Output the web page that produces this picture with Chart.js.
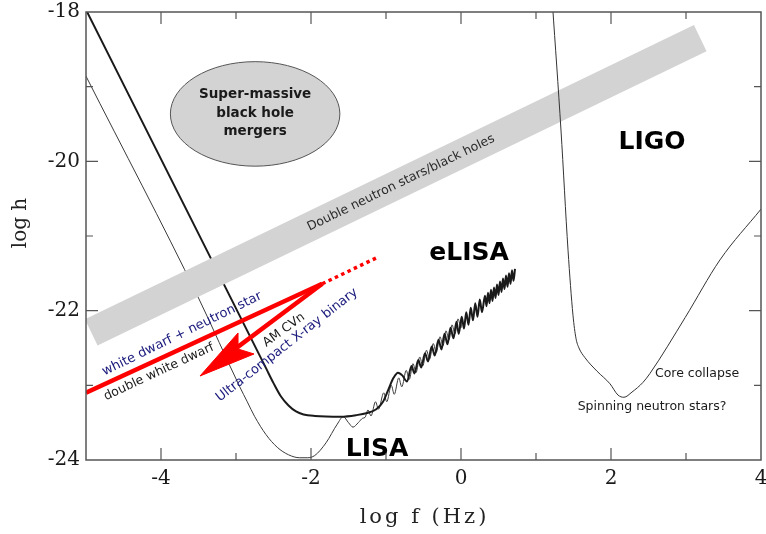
<!DOCTYPE html>
<html>
<head>
<meta charset="utf-8">
<script src="https://cdn.jsdelivr.net/npm/chart.js@4.4.1/dist/chart.umd.min.js"></script>
<style>
  html, body { margin: 0; padding: 0; background: #fff; }
</style>
</head>
<body>
<canvas id="chart" width="766" height="534"></canvas>
<script>
// values: log f (Hz) and log h

// LISA (thin curve)
const lisaF = [-5, -3.5, -2.95, -2.85, -2.75, -2.6, -2.45, -2.3, -2.15, -2.05, -1.95, -1.8, -1.65, -1.57, -1.5, -1.44, -1.37, -1.31, -1.28,
  -1.24, -1.20, -1.14, -1.10, -1.03, -0.99, -0.93, -0.89, -0.83, -0.79, -0.73, -0.69, -0.64, -0.60, -0.55, -0.51,
  -0.46, -0.42, -0.37, -0.33, -0.28, -0.24, -0.20, -0.16, -0.12, -0.08, -0.04, 0.00, 0.01];
const lisaH = [-18.86, -21.83, -23.02, -23.22, -23.42, -23.66, -23.83, -23.93, -23.97, -23.97, -23.94, -23.77, -23.52, -23.42, -23.50, -23.56, -23.50, -23.44, -23.43,
  -23.33, -23.41, -23.22, -23.32, -23.10, -23.22, -23.00, -23.12, -22.90, -23.02, -22.80, -22.92, -22.71, -22.83, -22.62, -22.74,
  -22.53, -22.65, -22.44, -22.56, -22.35, -22.47, -22.27, -22.39, -22.19, -22.31, -22.11, -22.23, -22.12];

// eLISA (thick curve)
const elisaF = [-5, -2.6, -2.5, -2.4, -2.3, -2.2, -2.1, -1.95, -1.6, -1.4, -1.25, -1.13, -1.04, -0.97, -0.90, -0.84, -0.78, -0.72,
  -0.66, -0.62, -0.57, -0.53, -0.48, -0.44, -0.39, -0.35, -0.30, -0.26, -0.22, -0.18, -0.14, -0.10, -0.06, -0.03, 0.01, 0.04, 0.07, 0.10,
  0.13, 0.16, 0.19, 0.22, 0.25, 0.28,
  0.32, 0.34, 0.36, 0.38, 0.40, 0.42, 0.44, 0.46, 0.48, 0.50, 0.52, 0.54, 0.56, 0.58, 0.60, 0.62, 0.64, 0.66, 0.68, 0.70, 0.72];
const elisaH = [-17.97, -22.77, -22.97, -23.15, -23.27, -23.35, -23.39, -23.41, -23.42, -23.40, -23.37, -23.32, -23.22, -23.06, -22.90, -22.83, -22.87, -22.95,
  -22.74, -22.84, -22.66, -22.76, -22.57, -22.68, -22.48, -22.60, -22.39, -22.52, -22.31, -22.45, -22.23, -22.37, -22.15, -22.31, -22.08, -22.24, -22.02, -22.19,
  -21.96, -22.13, -21.90, -22.08, -21.85, -22.02,
  -21.80, -21.94, -21.76, -21.90, -21.72, -21.87, -21.69, -21.83, -21.65, -21.79, -21.61, -21.75, -21.57, -21.71, -21.53, -21.68, -21.50, -21.64, -21.46, -21.60, -21.44];

// LIGO
const ligoF = [1.22, 1.333, 1.427, 1.493, 1.533, 1.573, 1.653, 1.813, 1.987, 2.093, 2.173, 2.28, 2.427, 2.52, 2.99, 3.453, 4.0];
const ligoH = [-17.9, -19.58, -21.19, -22.06, -22.37, -22.50, -22.63, -22.81, -22.98, -23.13, -23.16, -23.09, -22.96, -22.84, -22.09, -21.32, -20.64];

// double neutron stars / black holes band (centre line)
const bandF = [-4.93, 3.19];
const bandH = [-22.29, -18.35];

// super-massive black hole mergers region
const smbhF = [-3.875, -1.615];
const smbhH = [-18.665, -20.065];

// white dwarf tracks
const wdnsF = [-5.0, -1.85];
const wdnsH = [-23.10, -21.64];
const ucxbF = [-1.85, -1.10];
const ucxbH = [-21.64, -21.28];
const amcvnF = [-1.85, -3.30];
const amcvnH = [-21.64, -22.73];
const headF = [-2.973, -3.48, -2.76, -2.973, -2.973];
const headH = [-22.299, -22.875, -22.58, -22.513, -22.299];

const notes = [
  { text: 'Super-massive\nblack hole\nmergers', f: -2.745, h: -19.355, angle: 0, font: 'bold 13.5px "DejaVu Sans"', color: '#1a1a1a', lh: 18.5 },
  { text: 'LIGO', f: 2.547, h: -19.754, angle: 0, font: 'bold 25px "DejaVu Sans"', color: '#000' },
  { text: 'eLISA', f: 0.107, h: -21.241, angle: 0, font: 'bold 25px "DejaVu Sans"', color: '#000' },
  { text: 'LISA', f: -1.12, h: -23.866, angle: 0, font: 'bold 25px "DejaVu Sans"', color: '#000' },
  { text: 'Core collapse', f: 3.147, h: -22.848, angle: 0, font: '12.5px "DejaVu Sans"', color: '#1a1a1a' },
  { text: 'Spinning neutron stars?', f: 2.547, h: -23.29, angle: 0, font: '12.5px "DejaVu Sans"', color: '#1a1a1a' },
  { text: 'Double neutron stars/black holes', f: -0.8, h: -20.29, angle: -25.8, font: '12.5px "DejaVu Sans"', color: '#2a2a2a' },
  { text: 'white dwarf + neutron star', f: -3.72, h: -22.312, angle: -26, font: '13px "DejaVu Sans"', color: '#1b1b7d' },
  { text: 'double white dwarf', f: -4.027, h: -22.821, angle: -25, font: '12.5px "DejaVu Sans"', color: '#1a1a1a' },
  { text: 'AM CVn', f: -2.36, h: -22.259, angle: -36, font: '12.5px "DejaVu Sans"', color: '#1a1a1a' },
  { text: 'Ultra-compact X-ray binary', f: -2.32, h: -22.46, angle: -38, font: '13px "DejaVu Sans"', color: '#1b1b7d' }
];

const pts = (fs, hs) => fs.map((f, i) => ({ x: f, y: hs[i] }));

const overlay = {
  id: 'overlay',
  beforeDatasetsDraw(chart) {
    const { ctx, scales: { x, y } } = chart;
    const x0 = x.getPixelForValue(smbhF[0]), x1 = x.getPixelForValue(smbhF[1]);
    const y0 = y.getPixelForValue(smbhH[0]), y1 = y.getPixelForValue(smbhH[1]);
    ctx.save();
    ctx.beginPath();
    ctx.ellipse((x0 + x1) / 2, (y0 + y1) / 2, Math.abs(x1 - x0) / 2, Math.abs(y1 - y0) / 2, 0, 0, Math.PI * 2);
    ctx.fillStyle = '#d3d3d3';
    ctx.fill();
    ctx.strokeStyle = '#555';
    ctx.lineWidth = 1;
    ctx.stroke();
    ctx.restore();
  },
  afterDatasetsDraw(chart) {
    const { ctx, scales: { x, y } } = chart;
    notes.forEach(n => {
      ctx.save();
      ctx.translate(x.getPixelForValue(n.f), y.getPixelForValue(n.h));
      ctx.rotate(n.angle * Math.PI / 180);
      ctx.font = n.font;
      ctx.fillStyle = n.color;
      ctx.textAlign = 'center';
      ctx.textBaseline = 'middle';
      const lines = n.text.split('\n');
      lines.forEach((line, i) => ctx.fillText(line, 0, (i - (lines.length - 1) / 2) * (n.lh || 0)));
      ctx.restore();
    });
  },
  afterDraw(chart) {
    const { ctx, chartArea: a, scales: { x, y } } = chart;
    ctx.save();
    // frame
    ctx.strokeStyle = '#555';
    ctx.lineWidth = 1.5;
    ctx.strokeRect(a.left, a.top, a.right - a.left, a.bottom - a.top);
    // inward ticks
    ctx.lineWidth = 1.2;
    ctx.beginPath();
    for (let v = -4; v <= 3; v++) {
      const px = x.getPixelForValue(v);
      const len = v % 2 === 0 ? 12 : 7;
      ctx.moveTo(px, a.bottom); ctx.lineTo(px, a.bottom - len);
      ctx.moveTo(px, a.top); ctx.lineTo(px, a.top + len);
    }
    for (let v = -23; v <= -19; v++) {
      const py = y.getPixelForValue(v);
      const len = v % 2 === 0 ? 12 : 7;
      ctx.moveTo(a.left, py); ctx.lineTo(a.left + len, py);
      ctx.moveTo(a.right, py); ctx.lineTo(a.right - len, py);
    }
    ctx.stroke();
    // axis titles
    ctx.fillStyle = '#222';
    ctx.textAlign = 'center';
    ctx.textBaseline = 'middle';
    ctx.font = '21px "DejaVu Serif"';
    if ('letterSpacing' in ctx) ctx.letterSpacing = '3px';
    ctx.fillText('log f (Hz)', (a.left + a.right) / 2 + 1, 518);
    if ('letterSpacing' in ctx) ctx.letterSpacing = '0px';
    ctx.font = '20px "DejaVu Serif"';
    ctx.translate(21, 223);
    ctx.rotate(-Math.PI / 2);
    ctx.fillText('log h', 0, 0);
    ctx.restore();
  }
};

const line = (label, fs, hs, extra) => Object.assign({
  label, data: pts(fs, hs), pointRadius: 0, tension: 0, fill: false,
  borderJoinStyle: 'round'
}, extra);

new Chart(document.getElementById('chart'), {
  type: 'line',
  data: {
    datasets: [
      line('arrow head', headF, headH, { borderColor: '#ff0000', backgroundColor: '#ff0000', borderWidth: 1, fill: 'shape', borderJoinStyle: 'miter', order: 1 }),
      line('AM CVn', amcvnF, amcvnH, { borderColor: '#ff0000', borderWidth: 4.5, order: 1 }),
      line('white dwarf + neutron star', wdnsF, wdnsH, { borderColor: '#ff0000', borderWidth: 4.5, order: 1 }),
      line('ultra-compact', ucxbF, ucxbH, { borderColor: '#ff0000', borderWidth: 3.5, borderDash: [3.5, 3.5], order: 1 }),
      line('LIGO', ligoF, ligoH, { borderColor: '#333', borderWidth: 1, cubicInterpolationMode: 'monotone', order: 2 }),
      line('NS/BH band', bandF, bandH, { borderColor: '#d3d3d3', borderWidth: 29, borderCapStyle: 'butt', order: 3 }),
      line('eLISA', elisaF, elisaH, { borderColor: '#1a1a1a', borderWidth: 2, cubicInterpolationMode: 'monotone', order: 4 }),
      line('LISA', lisaF, lisaH, { borderColor: '#3a3a3a', borderWidth: 1, cubicInterpolationMode: 'monotone', order: 5 })
    ]
  },
  options: {
    responsive: false,
    animation: false,
    devicePixelRatio: 1,
    layout: { padding: { top: 12, right: 5, left: 0, bottom: 0 } },
    plugins: { legend: { display: false }, tooltip: { enabled: false } },
    scales: {
      x: {
        type: 'linear', min: -5, max: 4,
        grid: { display: false, drawTicks: false },
        border: { display: false },
        ticks: {
          stepSize: 1, autoSkip: false, maxRotation: 0, padding: 7, color: '#1a1a1a',
          font: { family: '"DejaVu Serif"', size: 20 },
          callback: v => (v % 2 === 0 ? String(v) : '')
        },
        afterFit: s => { s.height = 74; s.paddingLeft = 0; s.paddingRight = 0; }
      },
      y: {
        type: 'linear', min: -24, max: -18,
        grid: { display: false, drawTicks: false },
        border: { display: false },
        ticks: {
          stepSize: 1, autoSkip: false, padding: 6, color: '#1a1a1a',
          font: { family: '"DejaVu Serif"', size: 20 },
          callback: v => (v % 2 === 0 ? String(v) : '')
        },
        afterFit: s => { s.width = 86; s.paddingTop = 0; s.paddingBottom = 0; }
      }
    }
  },
  plugins: [overlay]
});
</script>
</body>
</html>
